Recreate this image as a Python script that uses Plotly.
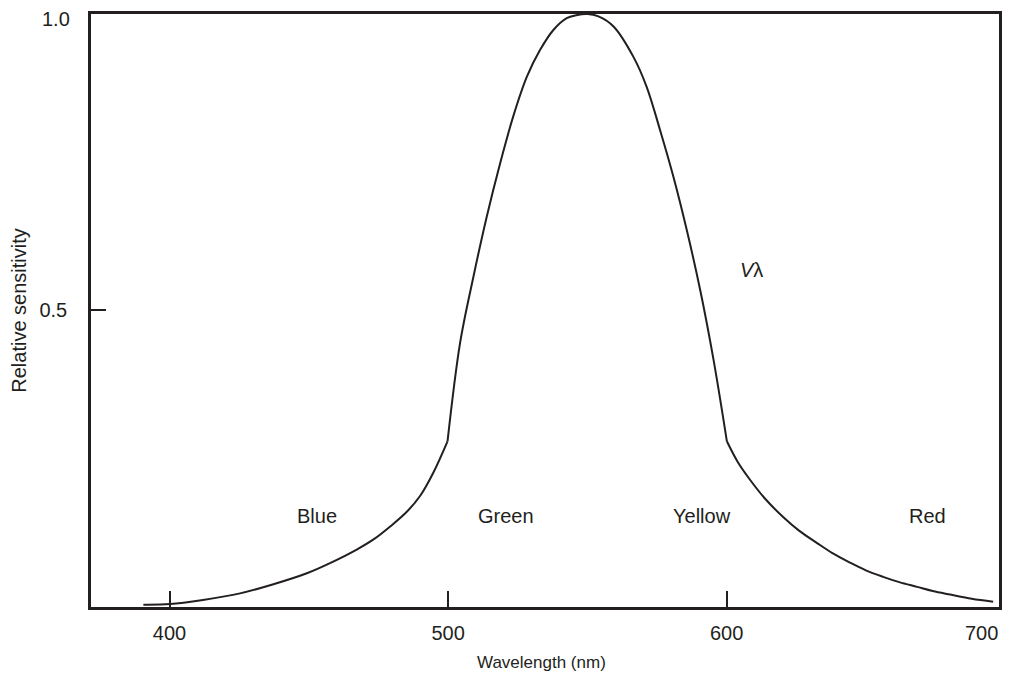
import plotly.graph_objects as go

# Left (blue) tail up to the kink at 500 nm
w_left = [390.6, 400.2, 412.0, 425.3, 437.0, 449.3, 458.0, 467.2, 473.5, 479.2,
          485.0, 490.0, 494.6, 499.8]
v_left = [0.002, 0.003, 0.010, 0.021, 0.036, 0.055, 0.073, 0.095, 0.113, 0.134,
          0.158, 0.186, 0.224, 0.278]

# Central peak between the kinks
w_mid = [499.8, 504.3, 509.1, 513.9, 518.7, 523.4, 528.3, 533.0, 537.8, 542.6,
         546.0, 550.0, 554.0, 559.4, 566.5, 571.3, 576.1, 580.9, 585.7, 590.5,
         595.3, 600.1]
v_mid = [0.278, 0.444, 0.556, 0.658, 0.748, 0.827, 0.894, 0.939, 0.973, 0.993,
         0.998, 1.000, 0.996, 0.979, 0.928, 0.877, 0.804, 0.725, 0.635, 0.534,
         0.416, 0.278]

# Right (red) tail from the kink at 600 nm
w_right = [600.1, 604.0, 608.4, 614.0, 620.3, 626.0, 632.5, 638.0, 644.3, 650.0,
           656.2, 662.0, 668.4, 674.0, 680.3, 688.0, 695.7]
v_right = [0.278, 0.243, 0.213, 0.180, 0.150, 0.127, 0.106, 0.089, 0.073, 0.060,
           0.049, 0.040, 0.032, 0.025, 0.019, 0.012, 0.007]

band_labels = ["Blue", "Green", "Yellow", "Red"]
band_x = [453.0, 520.9, 591.0, 672.0]
band_y = 0.152

x_ticks = [400, 500, 600]
y_ticks = [0.5, 1.0]
y_ticktext = ["0.5", ""]
y_top_label = "1.0"
x_end_label = "700"
x_title = "Wavelength (nm)"
y_title = "Relative sensitivity"

INK = "#231f20"
FONT = "Liberation Sans, Arial, Helvetica, sans-serif"

fig = go.Figure()
for xs, ys in [(w_left, v_left), (w_mid, v_mid), (w_right, v_right)]:
    fig.add_trace(go.Scatter(x=xs, y=ys, mode="lines",
                             line=dict(color=INK, width=2, shape="spline", smoothing=1.0),
                             showlegend=False, hoverinfo="skip"))

for lab, bx in zip(band_labels, band_x):
    fig.add_annotation(x=bx, y=band_y, text=lab, showarrow=False,
                       font=dict(family=FONT, size=20, color=INK))

fig.add_annotation(x=609.0, y=0.568, text="<i>V</i>λ", showarrow=False,
                   font=dict(family=FONT, size=20, color=INK))

# 1.0 label at the top of the y axis (sits slightly below the frame corner)
fig.add_annotation(x=0, xref="paper", y=1, yref="paper", xshift=-19, yshift=-5,
                   xanchor="right", yanchor="middle", text=y_top_label,
                   showarrow=False, font=dict(family=FONT, size=20, color=INK))

# 700 label at the right end of the x axis
fig.add_annotation(x=0.981, xref="paper", y=0, yref="paper", yshift=-26,
                   xanchor="center", yanchor="middle",
                   text=x_end_label, showarrow=False,
                   font=dict(family=FONT, size=20, color=INK))

# x axis title
fig.add_annotation(x=0.4956, xref="paper", y=0, yref="paper", yshift=-55,
                   xanchor="center", yanchor="middle",
                   text=x_title, showarrow=False,
                   font=dict(family=FONT, size=17, color=INK))

fig.update_layout(
    width=1003, height=668,
    margin=dict(l=83, r=12, t=6, b=69, autoexpand=False),
    paper_bgcolor="white", plot_bgcolor="white",
    font=dict(family=FONT, size=20, color=INK),
    xaxis=dict(range=[371.8, 697.8], tickvals=x_ticks, ticks="inside", ticklen=16,
               tickwidth=2, tickcolor=INK, showline=True, linecolor=INK, linewidth=2.5,
               mirror=True, showgrid=False, zeroline=False, ticklabelstandoff=6,
               ticklabeloverflow="allow"),
    yaxis=dict(range=[-0.002, 1.0], tickvals=y_ticks, ticktext=y_ticktext,
               ticks="inside", ticklen=15, tickwidth=2, tickcolor=INK,
               showline=True, linecolor=INK, linewidth=2.5, mirror=True,
               showgrid=False, zeroline=False, ticklabelstandoff=17,
               ticklabeloverflow="allow",
               title=dict(text=y_title, font=dict(size=20), standoff=16)),
)

fig.write_html("out.html")
